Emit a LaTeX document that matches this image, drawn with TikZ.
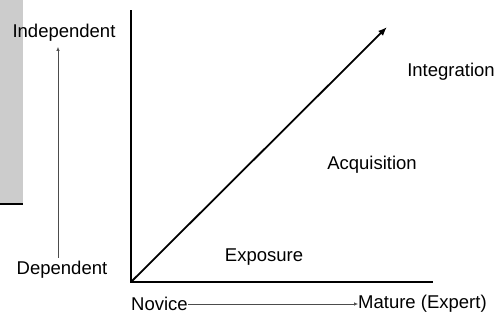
\documentclass[tikz,border=0pt]{standalone}
\usepackage{fontspec}
\setmainfont{Liberation Sans}
\usetikzlibrary{arrows.meta}
\begin{document}
\begin{tikzpicture}[x=1pt,y=-1pt,
  lbl/.style={font=\fontsize{18.5}{20}\selectfont, inner sep=0pt},
  axis/.style={line width=2pt},
  thin arrow/.style={line width=0.6pt, black!70, -{Latex[length=4pt,width=3.5pt]}}]
  \useasboundingbox (0,0) rectangle (501,320);
  % shaded side panel with its lower edge
  \fill[gray!40] (0,0) rectangle (23,204);
  \draw[axis] (0,204) -- (23,204);
  % axes
  \coordinate (o) at (131,282);
  \coordinate (ytop) at (131,11);
  \coordinate (xend) at (432,282);
  \coordinate (tip) at (387,27);
  \draw[axis, line cap=rect] (ytop) -- (o) -- (xend);
  \draw[line width=1.8pt, -{Latex[length=9pt,width=7pt]}] (o) -- (tip);
  % stage labels
  \node[lbl] (integ) at (451,72) {Integration};
  \node[lbl] (acq) at (372,165) {Acquisition};
  \node[lbl] (exp) at (264,257) {Exposure};
  % vertical scale
  \node[lbl] (indep) at (64,33) {Independent};
  \node[lbl] (dep) at (62,270) {Dependent};
  \coordinate (vlow) at (58,258);
  \coordinate (vhigh) at (58,47);
  \draw[thin arrow] (vlow) -- (vhigh);
  % horizontal scale
  \node[lbl, anchor=west] (nov) at (131,304) {Novice};
  \node[lbl, anchor=west] (mat) at (358,304) {Mature (Expert)};
  \draw[thin arrow] (nov.east) -- (mat.west);
\end{tikzpicture}
\end{document}
